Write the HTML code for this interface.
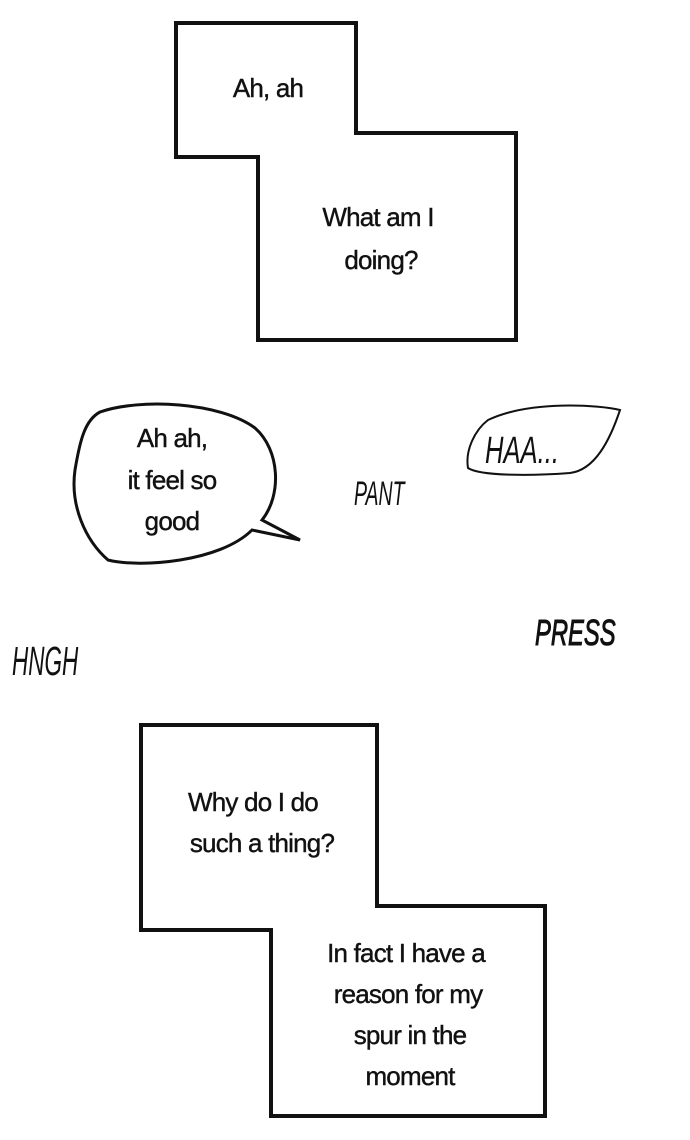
<!DOCTYPE html>
<html><head><meta charset="utf-8"><style>
html,body{margin:0;padding:0;background:#fff;}
svg{display:block}
text{font-family:"Liberation Sans",sans-serif;fill:#111;}
</style></head><body>
<svg width="690" height="1140" viewBox="0 0 690 1140" xmlns="http://www.w3.org/2000/svg">
<rect width="690" height="1140" fill="#fff"/>
<polygon points="176,23 356,23 356,133 516,133 516,340 258,340 258,157 176,157" fill="#fff" stroke="#111" stroke-width="4" stroke-linejoin="miter"/>
<g font-size="26" text-anchor="middle" letter-spacing="-0.8" stroke="#111" stroke-width="0.4">
<text x="268" y="97">Ah, ah</text>
<text x="378" y="226">What am I</text>
<text x="381" y="269">doing?</text>
</g>
<path d="M100,412 C140,398 220,402 255,428 C280,450 282,495 262,520 L300,540 L252,530 C220,562 140,568 108,560 C85,540 70,505 75,470 C80,440 85,420 100,412 Z" fill="#fff" stroke="#111" stroke-width="3"/>
<g font-size="26" text-anchor="middle" letter-spacing="-0.8" stroke="#111" stroke-width="0.4">
<text x="172" y="447">Ah ah,</text>
<text x="172" y="489">it feel so</text>
<text x="172" y="530">good</text>
</g>
<path d="M488,420 C530,400 600,405 620,410 C610,440 595,470 570,473 C530,476 480,476 468,468 C465,450 475,430 488,420 Z" fill="#fff" stroke="#111" stroke-width="2"/>
<text x="485" y="463" font-size="32" font-style="italic" transform="translate(485,463) scale(0.8,1.2) translate(-485,-463)">HAA...</text>
<text x="354" y="505" font-size="26" font-style="italic" transform="translate(354,505) scale(0.75,1.3) translate(-354,-505)">PANT</text>
<text x="535" y="645" font-size="28" font-style="italic" stroke="#111" stroke-width="0.8" transform="translate(535,645) scale(0.85,1.3) translate(-535,-645)">PRESS</text>
<text x="12" y="675" font-size="30" font-style="italic" transform="translate(12,675) scale(0.75,1.35) translate(-12,-675)">HNGH</text>
<polygon points="141,725 377,725 377,906 545,906 545,1116 271,1116 271,930 141,930" fill="#fff" stroke="#111" stroke-width="4"/>
<g font-size="26" text-anchor="middle" letter-spacing="-0.8" stroke="#111" stroke-width="0.4">
<text x="253" y="811">Why do I do</text>
<text x="262" y="852">such a thing?</text>
<text x="406" y="962">In fact I have a</text>
<text x="408" y="1003">reason for my</text>
<text x="410" y="1044">spur in the</text>
<text x="410" y="1085">moment</text>
</g>
</svg>
</body></html>
